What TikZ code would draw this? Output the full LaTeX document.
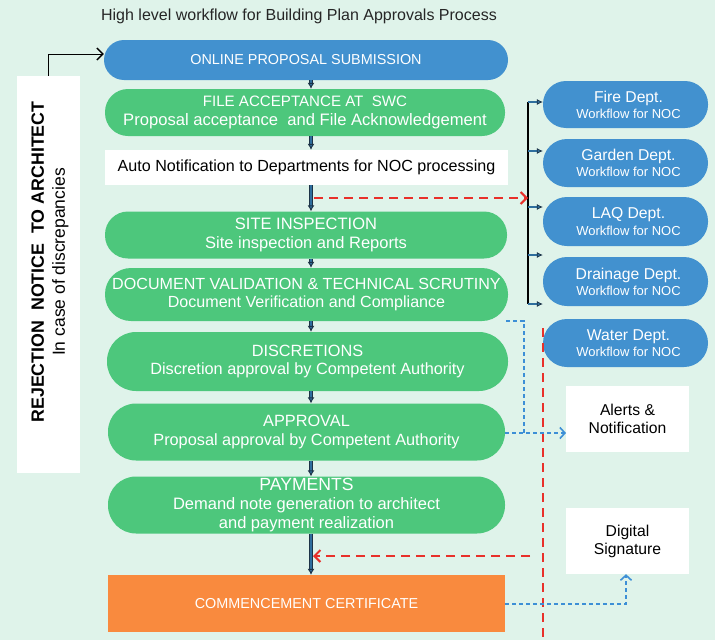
\documentclass[tikz,border=0pt]{standalone}
\usepackage{fontspec}
\setmainfont{Liberation Sans}
\usetikzlibrary{arrows.meta,calc}
\definecolor{bgc}{HTML}{DFF3EA}
\definecolor{pgreen}{HTML}{4DC77C}
\definecolor{pblue}{HTML}{4291CF}
\definecolor{porange}{HTML}{F98A3E}
\definecolor{pred}{HTML}{E8302A}
\definecolor{dblue}{HTML}{3D8FD6}
\definecolor{spinec}{HTML}{1D3347}
\definecolor{spinein}{HTML}{2F6E9E}
\newcommand{\fs}[2]{\fontsize{#1}{#2}\selectfont}
\newcommand{\dept}[1]{\fs{15.7}{17}\hspace*{6pt}#1\\[2.5pt]\fs{13}{15}\hspace*{6pt}Workflow for NOC}
\tikzset{
  x=1pt, y=-1pt,
  gpill/.style={fill=pgreen, draw=none, text=white, align=center, inner sep=0pt},
  bpill/.style={fill=pblue, draw=none, text=white, align=center, inner sep=0pt},
  wbox/.style={fill=white, draw=none, text=black, align=center, inner sep=0pt},
  flow/.style={draw=spinec, line width=1pt, double=spinein, double distance=1.8pt, -{Latex[length=6pt,width=7pt,fill=spinein]}},
  tick/.style={draw=spinec, line width=0.7pt, double=spinein, double distance=1.3pt, -{Latex[length=6pt,width=6pt,fill=spinein]}},
  reddash/.style={draw=pred, line width=2.4pt, dash pattern=on 9pt off 6pt, -{Straight Barb[length=6pt,width=12pt,line width=2pt]}},
  redline/.style={draw=pred, line width=2.4pt, dash pattern=on 9pt off 6pt},
  bluedash/.style={draw=dblue, line width=1.2pt, dash pattern=on 4pt off 3pt},
  bluedasharr/.style={bluedash, -{Straight Barb[length=5pt,width=11pt,line width=1.6pt]}},
}
\begin{document}
\begin{tikzpicture}
\useasboundingbox (0,0) rectangle (715,640);
\fill[bgc] (0,0) rectangle (715,640);

% title
\node[text=black!85, font=\fs{16}{19}] (title) at (299,16) {High level workflow for Building Plan Approvals Process};

% main column
\node[bpill, minimum width=404pt, minimum height=40pt, rounded corners=20pt, font=\fs{14.4}{17}] (online) at (306,60) {ONLINE PROPOSAL SUBMISSION};
\node[gpill, minimum width=400pt, minimum height=47pt, rounded corners=23pt, font=\fs{16.6}{18.5}] (file) at (305,112.5) {\fs{15.1}{18.5}FILE ACCEPTANCE AT\ \ SWC\\Proposal acceptance\ \ and File Acknowledgement};
\node[wbox, minimum width=403pt, minimum height=35pt, font=\fs{16.1}{19}] (auto) at (306.5,167.5) {Auto Notification to Departments for NOC processing};
\node[gpill, minimum width=402pt, minimum height=47pt, rounded corners=23pt, font=\fs{16.5}{18.5}] (site) at (306,235) {SITE INSPECTION\\Site inspection and Reports};
\node[gpill, minimum width=403pt, minimum height=53pt, rounded corners=26pt, font=\fs{16.1}{18.5}] (doc) at (306.5,294.5) {DOCUMENT VALIDATION \& TECHNICAL SCRUTINY\\Document Verification and Compliance};
\node[gpill, minimum width=401pt, minimum height=59pt, rounded corners=29pt, font=\fs{16.3}{18.5}] (disc) at (307.5,361.5) {DISCRETIONS\\Discretion approval by Competent Authority};
\node[gpill, minimum width=397pt, minimum height=57pt, rounded corners=28pt, font=\fs{16.3}{18.5}] (appr) at (306.5,432) {APPROVAL\\Proposal approval by Competent Authority};
\node[gpill, minimum width=397pt, minimum height=57pt, rounded corners=28pt, font=\fs{16.5}{19}] (pay) at (306.5,505) {\fs{17.6}{19}PAYMENTS\\Demand note generation to architect\\and payment realization};
\node[fill=porange, text=white, minimum width=397pt, minimum height=57pt, inner sep=0pt, font=\fs{14.4}{17}] (comm) at (306.5,603.5) {COMMENCEMENT CERTIFICATE};

% spine
\coordinate (spine) at (311,0);
\draw[flow] (spine |- online.south) -- (spine |- file.north);
\draw[flow] (spine |- file.south) -- (spine |- auto.north);
\draw[flow] (spine |- auto.south) -- (spine |- site.north);
\draw[flow] (spine |- site.south) -- (spine |- doc.north);
\draw[flow] (spine |- doc.south) -- (spine |- disc.north);
\draw[flow] (spine |- disc.south) -- (spine |- appr.north);
\draw[flow] (spine |- appr.south) -- (spine |- pay.north);
\draw[flow] (spine |- pay.south) -- (spine |- comm.north);

% rejection
\node[wbox, minimum width=63pt, minimum height=397pt] (rej) at (48.5,274.5) {};
\node[rotate=90, align=center, font=\fs{17.5}{21}] (rejtxt) at (50,262) {\fs{17.8}{21}\bfseries REJECTION\ \ NOTICE\ \ TO ARCHITECT\\In case of discrepancies};
\coordinate (rejin) at ($(online.west)+(0,-6)$);
\draw[black, line width=1pt, -{Straight Barb[length=6pt,width=12pt,line width=1.3pt]}] (rej.north) |- (rejin);

% departments
\node[bpill, minimum width=165pt, minimum height=47pt, rounded corners=23pt] (fire) at (625.5,104.5) {\dept{Fire Dept.}};
\node[bpill, minimum width=165pt, minimum height=48pt, rounded corners=24pt] (garden) at (625.5,163) {\dept{Garden Dept.}};
\node[bpill, minimum width=165pt, minimum height=49pt, rounded corners=24pt] (laq) at (625.5,221.5) {\dept{LAQ Dept.}};
\node[bpill, minimum width=165pt, minimum height=49pt, rounded corners=24pt] (drain) at (625.5,281.5) {\dept{Drainage Dept.}};
\node[bpill, minimum width=165pt, minimum height=48pt, rounded corners=24pt] (water) at (625.5,343) {\dept{Water Dept.}};

% bracket
\coordinate (b1) at (528,102);
\coordinate (b2) at (528,151);
\coordinate (b3) at (528,207);
\coordinate (b4) at (528,255);
\coordinate (b5) at (528,304);
\coordinate (bmid) at (528,198);
\draw[black, line width=1.1pt] (b1) -- (b5);
\draw[tick] (b1) -- (fire.west |- b1);
\draw[tick] (b2) -- (garden.west |- b2);
\draw[tick] (b3) -- (laq.west |- b3);
\draw[tick] (b4) -- (drain.west |- b4);
\draw[tick] (b5) -- (drain.west |- b5);

% red dashed
\coordinate (rs) at (314,198);
\draw[reddash] (rs) -- (bmid);
\coordinate (rv1) at (543,328);
\coordinate (rv2) at (543,640);
\draw[redline] (rv1) -- (rv2);
\coordinate (rh1) at (530,556);
\coordinate (rh2) at (313,556);
\draw[reddash] (rh1) -- (rh2);

% white side boxes
\node[wbox, minimum width=123pt, minimum height=66pt, font=\fs{15.7}{18}] (alerts) at (627.5,419) {Alerts \&\\Notification};
\node[wbox, minimum width=123pt, minimum height=66pt, font=\fs{15.7}{18}] (digi) at (627.5,541) {Digital\\Signature};

% blue dashed
\coordinate (dv) at (524,321);
\coordinate (ain) at (566,433);
\draw[bluedash] ($(doc.east |- dv)+(-2,0)$) -- (dv) -- (dv |- ain);
\draw[bluedasharr] (appr.east |- ain) -- (ain);
\coordinate (dc) at (626,604);
\draw[bluedasharr] (comm.east |- dc) -- (dc) -- (dc |- digi.south);
\end{tikzpicture}
\end{document}
